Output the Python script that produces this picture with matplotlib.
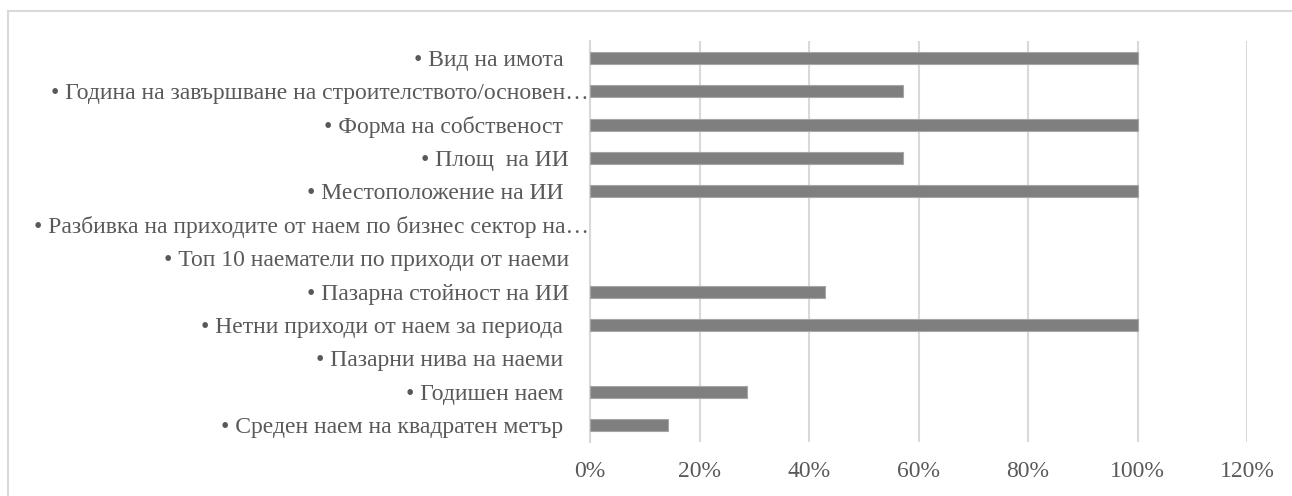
import matplotlib
matplotlib.use("Agg")
import matplotlib.pyplot as plt
from matplotlib.patches import Rectangle
from matplotlib.ticker import FuncFormatter
from matplotlib.transforms import ScaledTranslation

categories = [
    "• Вид на имота ",
    "• Година на завършване на строителството/основен…",
    "• Форма на собственост ",
    "• Площ  на ИИ",
    "• Местоположение на ИИ ",
    "• Разбивка на приходите от наем по бизнес сектор на…",
    "• Топ 10 наематели по приходи от наеми",
    "• Пазарна стойност на ИИ",
    "• Нетни приходи от наем за периода ",
    "• Пазарни нива на наеми ",
    "• Годишен наем ",
    "• Среден наем на квадратен метър ",
]
values = [1.00, 0.571, 1.00, 0.571, 1.00, 0.0, 0.0, 0.429, 1.00, 0.0, 0.286, 0.143]
xticks = [0, 0.2, 0.4, 0.6, 0.8, 1.0, 1.2]

plt.rcParams['font.family'] = ['Liberation Serif', 'DejaVu Serif']

W, H = 1292, 496
fig = plt.figure(figsize=(W / 100, H / 100), dpi=100)

# outer chart border
fig.patches.append(Rectangle((8 / W, -0.1), 1.2, 1 - 11 / H + 0.1, transform=fig.transFigure,
                             fill=False, edgecolor='#d9d9d9', linewidth=1.5))

ax = fig.add_axes([590 / W, 1 - 442 / H, 657 / W, 401 / H])
y = list(range(len(categories)))
edge = ['#a6a6a6' if v > 0 else 'none' for v in values]
ax.barh(y, values, height=0.36, color='#7f7f7f', edgecolor=edge, linewidth=0.8, zorder=3)

ax.set_xlim(0, 1.2)
ax.set_ylim(len(categories) - 0.5, -0.5)
ax.set_xticks(xticks)
ax.xaxis.set_major_formatter(FuncFormatter(lambda v, p: f"{v*100:.0f}%"))
ax.set_yticks(y)
ax.set_yticklabels(categories)
ax.grid(axis='x', color='#d9d9d9', linewidth=1.5, zorder=0)
for s in ['top', 'right', 'bottom']:
    ax.spines[s].set_visible(False)
ax.spines['left'].set_color('#d9d9d9')
ax.spines['left'].set_linewidth(1.5)
ax.tick_params(axis='both', length=0, labelsize=17, colors='#595959')
ax.tick_params(axis='y', pad=15)
ax.tick_params(axis='x', pad=14)

# truncated labels run up to the axis line
shift = ScaledTranslation(20 / 100, 0, fig.dpi_scale_trans)
for lab in ax.get_yticklabels():
    if lab.get_text().endswith('…'):
        lab.set_transform(lab.get_transform() + shift)

fig.savefig("out.png", dpi=100)
